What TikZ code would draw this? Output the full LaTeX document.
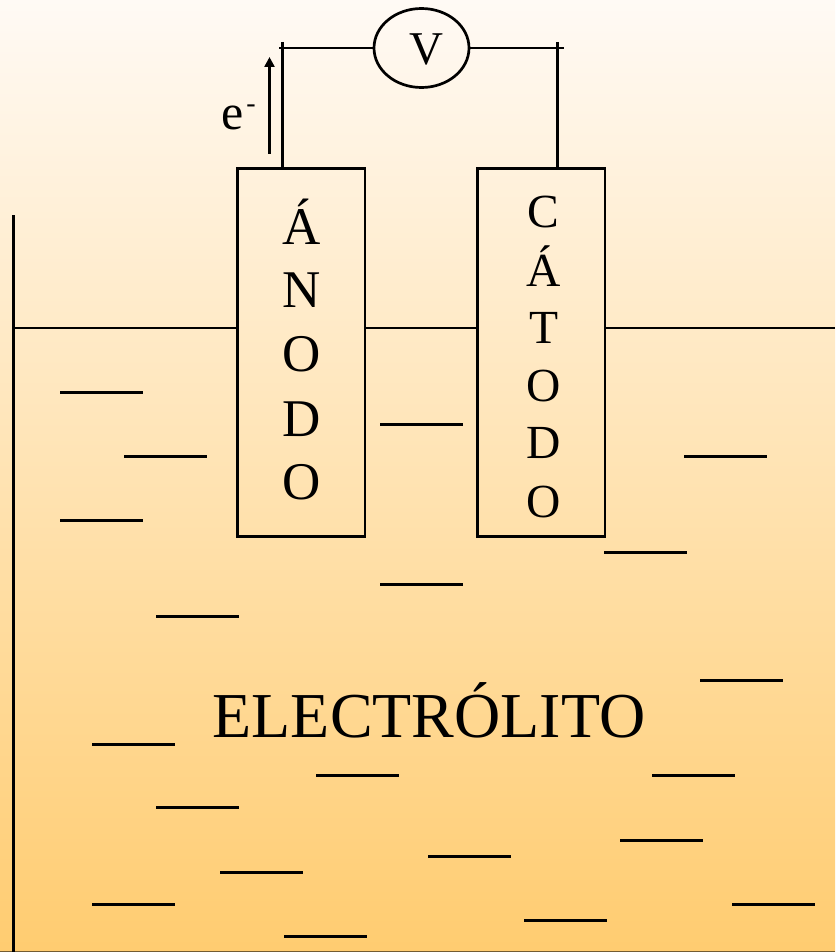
\documentclass[tikz,border=0pt]{standalone}
\usepackage{fontspec}
\setmainfont{Liberation Serif}
\usetikzlibrary{arrows.meta,shapes.geometric}
\definecolor{bgtop}{RGB}{255,250,245}
\definecolor{bgbot}{RGB}{255,204,112}
\begin{document}
\begin{tikzpicture}[x=1pt,y=-1pt,
  wire/.style={line width=2.7pt,black},
  ion/.style={line width=2.7pt,black},
  electrode/.style={draw=black,line width=2.7pt,fill=none,outer sep=0pt,minimum width=127.5pt,minimum height=368pt,inner sep=0pt,anchor=north west},
  lab/.style={inner sep=0pt,anchor=base,text=black},
  meter/.style={draw=black,line width=2.7pt,ellipse,outer sep=0pt,minimum width=95pt,minimum height=79pt,inner sep=0pt}]
\useasboundingbox (0,0) rectangle (835,952);
\shade[top color=bgtop,bottom color=bgbot] (0,0) rectangle (835,952);
\draw[line width=1pt,black!55!bgbot] (0,951.5) -- (835,951.5);
% tank
\coordinate (tanktop) at (13.5,215);
\coordinate (tankbot) at (13.5,952);
\draw[wire] (tanktop) -- (tankbot);
% electrodes
\node[electrode] (anode) at (237.5,168.5) {};
\node[electrode] (cathode) at (477.5,168.5) {};
% liquid level
\coordinate (levL) at (13.5,328);
\coordinate (levR) at (835,328);
\draw[wire] (levL) -- (anode.west |- levL);
\draw[wire] (anode.east |- levL) -- (cathode.west |- levL);
\draw[wire] (cathode.east |- levL) -- (levR);
% voltmeter
\node[meter] (V) at (421.5,48) {};
\node[lab,font=\fontsize{47}{47}\selectfont] (Vt) at (426,65) {V};
\coordinate (at) at (282.5,42);
\coordinate (al) at (279,48);
\coordinate (ct) at (557.5,42);
\coordinate (cr) at (564,48);
\draw[wire] (at) -- (at |- anode.north);
\draw[wire] (ct) -- (ct |- cathode.north);
\draw[wire] (al) -- (V.west);
\draw[wire] (V.east) -- (cr);
% electron arrow
\coordinate (eA) at (269.5,154);
\coordinate (eB) at (269.5,57);
\draw[line width=2.4pt,-{Triangle[width=10pt,length=10pt]}] (eA) -- (eB);
\node[lab,font=\fontsize{50}{50}\selectfont] (e) at (233,130) {e};
\node[lab,font=\fontsize{28}{28}\selectfont] (em) at (251,113) {-};
% anode letters
\foreach \n/\t/\y in {a1/Á/244,a2/N/307.7,a3/O/371.7,a4/D/436,a5/O/499.7}
  \node[lab,font=\fontsize{53}{53}\selectfont] (\n) at (301.3,\y) {\t};
% cathode letters
\foreach \n/\t/\y in {c1/C/227,c2/Á/286,c3/T/343.7,c4/O/401,c5/D/458.7,c6/O/517}
  \node[lab,font=\fontsize{47.5}{47.5}\selectfont] (\n) at (543.7,\y) {\t};
\node[lab,font=\fontsize{64}{64}\selectfont] (elec) at (429,737) {ELECTRÓLITO};
% ions
\foreach \x/\y in {60/392.7,124/456.7,60/520.7,156/616.7,92/744.7,156/807.7,220/872.7,92/904.7,284/936.7,316/775.7,428/856.7,380/424.7,380/584.7,524/920.7,604/552.7,684/456.7,700/680.7,652/775.7,620/840.7,732/904.7}
  \draw[ion] (\x,\y) -- ++(83,0);
\end{tikzpicture}
\end{document}
